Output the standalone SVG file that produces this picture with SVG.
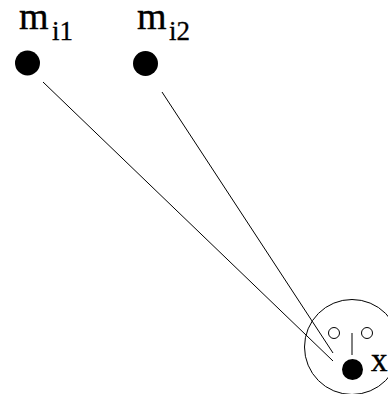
<svg xmlns="http://www.w3.org/2000/svg" width="388" height="394" viewBox="0 0 388 394">
<style>
.t{font-family:"Liberation Serif","Times New Roman",serif;fill:#000}
.m{font-size:38px}
.s{font-size:27px}
.ln{stroke:#000;stroke-width:1;fill:none}
</style>
<rect width="388" height="394" fill="#fff"/>
<g id="connectors">
<line class="ln" x1="43" y1="82" x2="333" y2="361"/>
<line class="ln" x1="162" y1="92" x2="333" y2="353"/>
</g>
<g id="m_i1">
<circle cx="27.5" cy="63" r="12.5" fill="#000"/>
<text class="t m" x="19" y="29" stroke="#000" stroke-width="0.4">m</text>
<text class="t s" x="52" y="40" stroke="#000" stroke-width="0.3">i1</text>
</g>
<g id="m_i2">
<circle cx="145.5" cy="63.5" r="12.5" fill="#000"/>
<text class="t m" x="137" y="29" stroke="#000" stroke-width="0.4">m</text>
<text class="t s" x="169" y="40" stroke="#000" stroke-width="0.3">i2</text>
</g>
<g id="x">
<circle class="ln" cx="352" cy="347" r="47.5"/>
<circle class="ln" cx="334" cy="333" r="5.5"/>
<circle class="ln" cx="367" cy="333" r="5.5"/>
<line class="ln" x1="352" y1="333" x2="352" y2="355"/>
<circle cx="352.5" cy="369.5" r="10.5" fill="#000"/>
<text class="t" x="371" y="370.5" font-size="33" stroke="#000" stroke-width="0.4">x</text>
</g>
</svg>
